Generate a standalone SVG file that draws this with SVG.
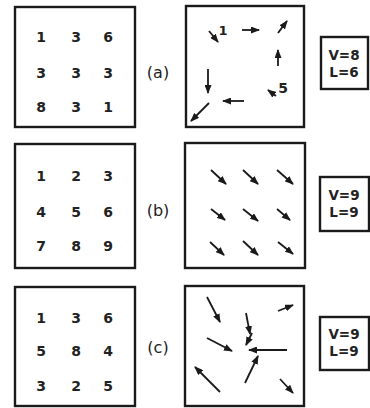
<svg xmlns="http://www.w3.org/2000/svg" width="370" height="408" viewBox="0 0 370 408">
<style>
.box{fill:#fff;stroke:#1a1a1a;stroke-width:2.4}
.num{font-family:"DejaVu Sans",sans-serif;font-size:14px;font-weight:bold;fill:#222;text-anchor:middle;dominant-baseline:central}
.lab{font-family:"DejaVu Sans",sans-serif;font-size:16px;fill:#222;text-anchor:middle;dominant-baseline:central}
.vl{font-family:"DejaVu Sans",sans-serif;font-size:13.5px;font-weight:bold;fill:#222;text-anchor:middle;dominant-baseline:central}
.ar{stroke:#1a1a1a;stroke-width:1.8;fill:none;marker-end:url(#ah)}
</style>
<defs>
<marker id="ah" viewBox="0 0 9 7" refX="8" refY="3.5" markerWidth="9" markerHeight="7" markerUnits="userSpaceOnUse" orient="auto">
<path d="M0,0 L9,3.5 L0,7 z" fill="#1a1a1a"/>
</marker>
</defs>
<rect width="370" height="408" fill="#fff"/>

<g id="grid-a">
<rect class="box" x="15" y="7" width="120" height="120"/>
<text class="num" x="41" y="37">1</text><text class="num" x="76" y="37">3</text><text class="num" x="108" y="37">6</text>
<text class="num" x="41" y="73">3</text><text class="num" x="76" y="73">3</text><text class="num" x="108" y="73">3</text>
<text class="num" x="41" y="107">8</text><text class="num" x="76" y="107">3</text><text class="num" x="108" y="107">1</text>
</g>
<g id="label-a"><text class="lab" x="158" y="72">(a)</text></g>
<g id="field-a">
<rect class="box" x="186" y="6" width="118" height="121"/>
<text class="num" x="223" y="30" style="font-size:13px">1</text>
<text class="num" x="283" y="88">5</text>
</g>
<g id="vl-a">
<rect class="box" x="321" y="37" width="47" height="52"/>
<text class="vl" x="344" y="55">V=8</text>
<text class="vl" x="344" y="71.5">L=6</text>
</g>

<g id="grid-b">
<rect class="box" x="15" y="144" width="120" height="124"/>
<text class="num" x="41" y="176">1</text><text class="num" x="76" y="176">2</text><text class="num" x="108" y="176">3</text>
<text class="num" x="41" y="212">4</text><text class="num" x="76" y="212">5</text><text class="num" x="108" y="212">6</text>
<text class="num" x="41" y="246">7</text><text class="num" x="76" y="246">8</text><text class="num" x="108" y="246">9</text>
</g>
<g id="label-b"><text class="lab" x="158" y="210">(b)</text></g>
<g id="field-b"><rect class="box" x="185" y="143" width="120" height="125"/></g>
<g id="vl-b">
<rect class="box" x="320" y="177" width="49" height="54"/>
<text class="vl" x="344" y="195">V=9</text>
<text class="vl" x="344" y="212">L=9</text>
</g>

<g id="grid-c">
<rect class="box" x="15" y="287" width="120" height="119"/>
<text class="num" x="41" y="318">1</text><text class="num" x="76" y="318">3</text><text class="num" x="108" y="318">6</text>
<text class="num" x="41" y="351">5</text><text class="num" x="76" y="351">8</text><text class="num" x="108" y="351">4</text>
<text class="num" x="41" y="386">3</text><text class="num" x="76" y="386">2</text><text class="num" x="108" y="386">5</text>
</g>
<g id="label-c"><text class="lab" x="158" y="347">(c)</text></g>
<g id="field-c"><rect class="box" x="185" y="286" width="119" height="120"/></g>
<g id="vl-c">
<rect class="box" x="320" y="317" width="49" height="53"/>
<text class="vl" x="344" y="334">V=9</text>
<text class="vl" x="344" y="351">L=9</text>
</g>

<g id="connectors">
<line class="ar" x1="209" y1="31" x2="218" y2="42"/>
<line class="ar" x1="242" y1="30" x2="259" y2="30"/>
<line class="ar" x1="278" y1="33" x2="287" y2="21"/>
<line class="ar" x1="278" y1="66" x2="278" y2="50"/>
<line class="ar" x1="276" y1="96" x2="268" y2="90"/>
<line class="ar" x1="244" y1="101" x2="223" y2="101"/>
<line class="ar" x1="208" y1="69" x2="208" y2="93"/>
<line class="ar" x1="209" y1="103" x2="191" y2="121"/>

<line class="ar" x1="211" y1="170" x2="226" y2="184"/>
<line class="ar" x1="243" y1="170" x2="258" y2="184"/>
<line class="ar" x1="277" y1="170" x2="293" y2="184"/>
<line class="ar" x1="211" y1="209" x2="225" y2="220"/>
<line class="ar" x1="243" y1="209" x2="258" y2="221"/>
<line class="ar" x1="277" y1="209" x2="290" y2="220"/>
<line class="ar" x1="210" y1="242" x2="224" y2="255"/>
<line class="ar" x1="243" y1="241" x2="258" y2="255"/>
<line class="ar" x1="278" y1="242" x2="293" y2="254"/>

<line class="ar" x1="207" y1="297" x2="220" y2="322"/>
<line class="ar" x1="278" y1="311" x2="293" y2="305"/>
<line class="ar" x1="246" y1="313" x2="250" y2="334"/>
<line class="ar" x1="252" y1="333" x2="246" y2="345"/>
<line class="ar" x1="207" y1="338" x2="232" y2="351"/>
<line class="ar" x1="287" y1="350" x2="249" y2="350"/>
<line class="ar" x1="245" y1="383" x2="258" y2="356"/>
<line class="ar" x1="220" y1="392" x2="195" y2="367"/>
<line class="ar" x1="280" y1="379" x2="293" y2="393"/>
</g>
</svg>
